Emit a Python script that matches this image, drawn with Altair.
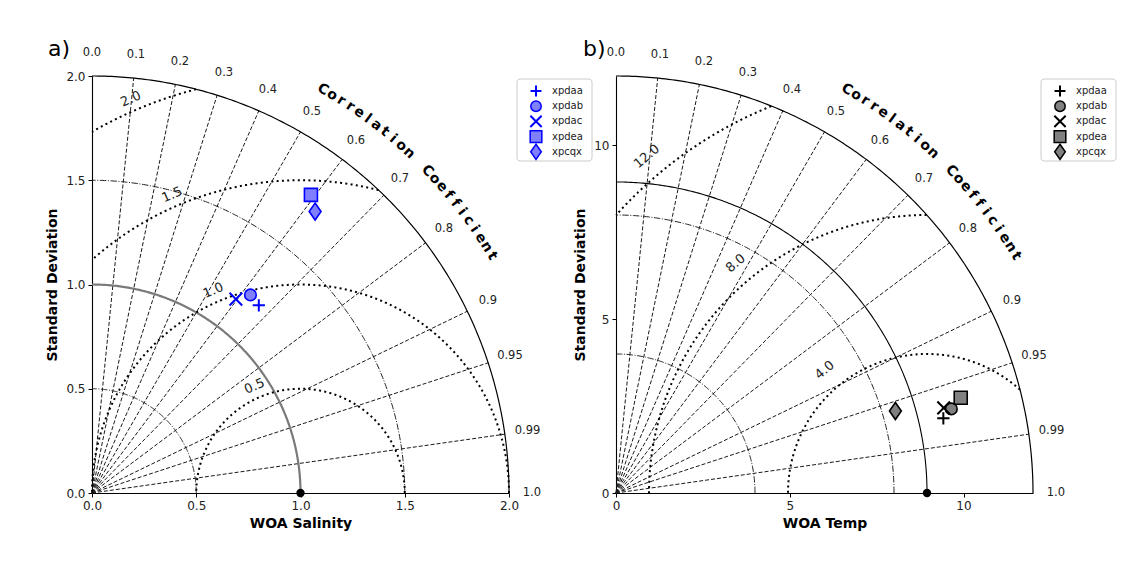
import altair as alt
import numpy as np
import pandas as pd

# ---------------- data ----------------
MODELS = ["xpdaa", "xpdab", "xpdac", "xpdea", "xpcqx"]

# panel a (WOA Salinity): marker positions (x = std*corr, y = std*sin)
SAL_X = [0.80, 0.76, 0.69, 1.05, 1.07]
SAL_Y = [0.90, 0.95, 0.93, 1.43, 1.35]
# panel b (WOA Temp)
TMP_X = [9.42, 9.65, 9.43, 9.92, 8.04]
TMP_Y = [2.15, 2.42, 2.45, 2.74, 2.36]

CORR_LINES = [0.1, 0.2, 0.3, 0.4, 0.5, 0.6, 0.7, 0.8, 0.9, 0.95, 0.99]
CORR_TICK_VALUES = [0.0, 0.1, 0.2, 0.3, 0.4, 0.5, 0.6, 0.7, 0.8, 0.9, 0.95, 0.99, 1.0]
CORR_TICK_LABELS = ["0.0", "0.1", "0.2", "0.3", "0.4", "0.5", "0.6", "0.7",
                    "0.8", "0.9", "0.95", "0.99", "1.0"]

SAL_MAX = 2.0
SAL_REF = 1.0
SAL_STD_ARCS = [0.5, 1.5]
SAL_RMS = [0.5, 1.0, 1.5, 2.0]
SAL_RMS_LABELS = ["0.5", "1.0", "1.5", "2.0"]
SAL_TICKS = [0.0, 0.5, 1.0, 1.5, 2.0]

TMP_MAX = 12.0
TMP_REF = 8.95
TMP_STD_ARCS = [4.0, 8.0]
TMP_RMS = [4.0, 8.0, 12.0]
TMP_RMS_LABELS = ["4.0", "8.0", "12.0"]
TMP_TICKS = [0, 5, 10]

TITLE_TEXT = "Correlation Coefficient"

PLUS = "M-1,0L1,0M0,-1L0,1"
XSHAPE = "M-1,-1L1,1M-1,1L1,-1"
DIAMOND = "M0,-1L0.7,0L0,1L-0.7,0Z"
SHAPES = [PLUS, "circle", XSHAPE, "square", DIAMOND]
FILLED = [False, True, False, True, True]
SIZES = [150, 135, 160, 169, 289]

FONT = "DejaVu Sans"
W = 417


def arc(r, n=200):
    t = np.linspace(0, np.pi / 2, n)
    return r * np.cos(t), r * np.sin(t)


def build(p):
    rmax, ref = p["rmax"], p["ref"]
    upp = rmax / W  # data units per pixel
    sc = alt.Scale(domain=[0, rmax], nice=False, zero=False)
    xax = alt.Axis(values=p["ticks"], format=p["fmt"], title=p["xtitle"],
                   titleX=W / 2, titleY=30, titleBaseline="middle", titleAlign="center",
                   labelFlush=False, labelOverlap=False)
    yax = alt.Axis(values=p["ticks"], format=p["fmt"], title="Standard Deviation",
                   titleX=p["ytx"], titleY=W / 2, titleAngle=270, titleBaseline="middle",
                   titleAlign="center", labelFlush=False, labelOverlap=False)

    def xy():
        return dict(x=alt.X("x:Q", scale=sc, axis=xax), y=alt.Y("y:Q", scale=sc, axis=yax))

    layers = []

    # std dash-dot arcs
    rows = []
    for i, r in enumerate(p["stdarcs"]):
        xs, ys = arc(r)
        for k, (a, b) in enumerate(zip(xs, ys)):
            rows.append(dict(x=a, y=b, grp=i, ord=k))
    layers.append(alt.Chart(pd.DataFrame(rows)).mark_line(
        color="#222", strokeWidth=1, strokeDash=[6.4, 1.6, 1, 1.6]
    ).encode(detail="grp:N", order="ord:Q", **xy()))

    # correlation radial dashed lines
    rows = []
    for i, c in enumerate(CORR_LINES):
        s = np.sqrt(1 - c * c)
        rows.append(dict(x=0, y=0, grp=i, ord=0))
        rows.append(dict(x=rmax * c, y=rmax * s, grp=i, ord=1))
    layers.append(alt.Chart(pd.DataFrame(rows)).mark_line(
        color="#1a1a1a", strokeWidth=1, strokeDash=[4, 2]
    ).encode(detail="grp:N", order="ord:Q", **xy()))

    # reference std arc
    xs, ys = arc(ref)
    layers.append(alt.Chart(pd.DataFrame(dict(x=xs, y=ys, ord=np.arange(len(xs))))).mark_line(
        color=p["refcolor"], strokeWidth=p["refwidth"]
    ).encode(order="ord:Q", **xy()))

    # outer arc
    xs, ys = arc(rmax)
    layers.append(alt.Chart(pd.DataFrame(dict(x=xs, y=ys, ord=np.arange(len(xs))))).mark_line(
        color="black", strokeWidth=1.2
    ).encode(order="ord:Q", **xy()))

    # RMS dotted circles centred on the reference point
    rows = []
    for i, r in enumerate(p["rms"]):
        t = np.linspace(0, np.pi, 3000)
        xs = ref + r * np.cos(t)
        ys = r * np.sin(t)
        m = (xs >= 0) & (xs ** 2 + ys ** 2 <= rmax ** 2 * 1.0001)
        for k, (a, b) in enumerate(zip(xs[m], ys[m])):
            rows.append(dict(x=a, y=b, grp=i, ord=k))
    layers.append(alt.Chart(pd.DataFrame(rows)).mark_line(
        color="black", strokeWidth=2, strokeDash=[2, 3.3]
    ).encode(detail="grp:N", order="ord:Q", **xy()))

    # RMS labels
    th = np.deg2rad(p["rms_th"])
    rows = []
    for r, lab in zip(p["rms"], p["rmslabels"]):
        rr = r + p["rms_off"] * upp
        rows.append(dict(x=ref + rr * np.cos(th), y=rr * np.sin(th), t=lab))
    layers.append(alt.Chart(pd.DataFrame(rows)).mark_text(
        font=FONT, fontSize=13, color="#222", angle=p["rms_ang"], align="center", baseline="middle"
    ).encode(text="t:N", **xy()))

    # correlation tick labels
    rows = []
    for c, lab in zip(CORR_TICK_VALUES, CORR_TICK_LABELS):
        rr = 1.055 * rmax
        rows.append(dict(x=rr * c, y=rr * np.sqrt(1 - c * c), t=lab))
    layers.append(alt.Chart(pd.DataFrame(rows)).mark_text(
        font=FONT, fontSize=11.5, color="#222", align="center", baseline="middle"
    ).encode(text="t:N", **xy()))

    # curved axis title "Correlation Coefficient"
    rows = []
    step = 1.32
    ang = 60.2
    rr = 1.115 * rmax
    for ch in TITLE_TEXT:
        if ch == " ":
            ang -= step * 1.4
            continue
        a = np.deg2rad(ang)
        rows.append(dict(x=rr * np.cos(a), y=rr * np.sin(a), t=ch, ang=90 - ang))
        ang -= step
    layers.append(alt.Chart(pd.DataFrame(rows)).mark_text(
        font=FONT, fontSize=14, fontWeight="bold", color="black", align="center", baseline="middle"
    ).encode(text="t:N", angle=alt.Angle("ang:Q", scale=None), **xy()))

    # reference point
    layers.append(alt.Chart(pd.DataFrame(dict(x=[ref], y=[0.0]))).mark_point(
        shape="circle", size=70, filled=True, color="black", opacity=1
    ).encode(**xy()))

    # model markers
    for i, m in enumerate(MODELS):
        df = pd.DataFrame(dict(x=[p["xs"][i]], y=[p["ys"][i]]))
        if FILLED[i]:
            mk = alt.Chart(df).mark_point(shape=SHAPES[i], size=SIZES[i], filled=True,
                                          fill=p["fill"], stroke=p["stroke"], strokeWidth=1.6,
                                          opacity=1)
        else:
            mk = alt.Chart(df).mark_point(shape=SHAPES[i], size=SIZES[i], filled=False,
                                          stroke=p["stroke"], strokeWidth=2, opacity=1)
        layers.append(mk.encode(**xy()))

    # legend
    lx0, lx1 = 425, 500
    layers.append(alt.Chart(pd.DataFrame(dict(a=[0]))).mark_rect(
        fill="white", stroke="#cccccc", strokeWidth=1, cornerRadius=3
    ).encode(x=alt.value(lx0), x2=alt.value(lx1), y=alt.value(3), y2=alt.value(85)))
    for i, m in enumerate(MODELS):
        yy = 15 + 15.2 * i
        df = pd.DataFrame(dict(t=[m]))
        sz = SIZES[i] * 0.8
        if FILLED[i]:
            mk = alt.Chart(df).mark_point(shape=SHAPES[i], size=sz, filled=True,
                                          fill=p["fill"], stroke=p["stroke"], strokeWidth=1.5,
                                          opacity=1)
        else:
            mk = alt.Chart(df).mark_point(shape=SHAPES[i], size=sz, filled=False,
                                          stroke=p["stroke"], strokeWidth=2, opacity=1)
        layers.append(mk.encode(x=alt.value(444), y=alt.value(yy)))
        layers.append(alt.Chart(df).mark_text(
            font=FONT, fontSize=10, color="#222", align="left", baseline="middle"
        ).encode(x=alt.value(460), y=alt.value(yy), text="t:N"))

    # panel letter
    layers.append(alt.Chart(pd.DataFrame(dict(t=[p["letter"]]))).mark_text(
        font=FONT, fontSize=22, color="black", align="left", baseline="middle"
    ).encode(x=alt.value(p["letter_x"]), y=alt.value(-27), text="t:N"))

    return alt.layer(*layers).properties(width=W, height=W)


pa = dict(rmax=SAL_MAX, ref=SAL_REF, stdarcs=SAL_STD_ARCS, rms=SAL_RMS, rmslabels=SAL_RMS_LABELS,
          ticks=SAL_TICKS, fmt=".1f", xtitle="WOA Salinity", ytx=-40, xs=SAL_X, ys=SAL_Y,
          fill="#8080ff", stroke="#0000ff", refcolor="#7a7a7a", refwidth=2.2,
          rms_th=113.3, rms_off=12, rms_ang=337, letter="a)", letter_x=-44)
pb = dict(rmax=TMP_MAX, ref=TMP_REF, stdarcs=TMP_STD_ARCS, rms=TMP_RMS, rmslabels=TMP_RMS_LABELS,
          ticks=TMP_TICKS, fmt="d", xtitle="WOA Temp", ytx=-36, xs=TMP_X, ys=TMP_Y,
          fill="#808080", stroke="black", refcolor="black", refwidth=1.1,
          rms_th=129.8, rms_off=21, rms_ang=320, letter="b)", letter_x=-33)

chart = alt.hconcat(build(pa), build(pb), spacing=107, bounds="flush").properties(
    padding={"left": 45, "top": 38, "right": 5, "bottom": 5},
    background="white",
).configure_view(stroke=None).configure_axis(
    labelFont=FONT, labelFontSize=12, labelColor="#222", labelPadding=3,
    tickSize=4, tickColor="black", tickWidth=1, domainColor="black", domainWidth=1.1,
    titleFont=FONT, titleFontSize=14, titleFontWeight="bold", titleColor="black",
    grid=False,
)

chart.save("out.html", embed_options={"renderer": "svg", "actions": False})
